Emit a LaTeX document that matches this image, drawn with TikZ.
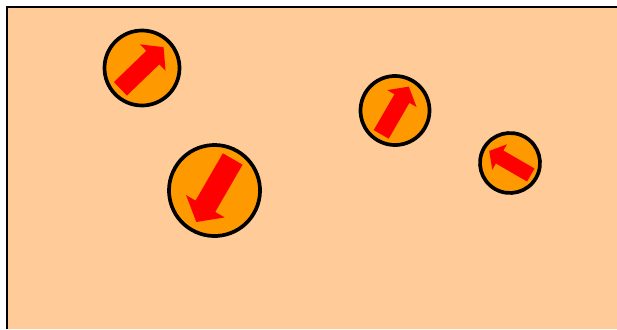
\documentclass[tikz,border=0pt]{standalone}
\usepackage{tikz}
\usepackage{xcolor}
\definecolor{sandbg}{RGB}{255,204,153}
\definecolor{ballfill}{RGB}{255,153,0}
\tikzset{
  ball/.style={fill=ballfill, draw=black, line width=2.1pt},
  spinarrow/.style={fill=red}
}
\newcommand{\spinshape}{(-0.8,-0.25)--(0.4,-0.25)--(0.4,-0.49)--(0.8,0)--(0.4,0.49)--(0.4,0.25)--(-0.8,0.25)--cycle}

\begin{document}
\begin{tikzpicture}[x=0.02cm, y=0.02cm]
\useasboundingbox (0,0) rectangle (617,329);
\fill [sandbg] (7,0) rectangle (617,322);
\draw [line width=1.15pt] (7,0)--(7,322)--(617,322);
\begin{scope}[shift={(142,261)}, rotate=44, scale=37.5]
\path [ball] (0,0) circle (1);
\path [spinarrow] \spinshape;
\end{scope}
\begin{scope}[shift={(214.5,138.5)}, rotate=240, scale=45.5]
\path [ball] (0,0) circle (1);
\path [spinarrow] \spinshape;
\end{scope}
\begin{scope}[shift={(395,218.5)}, rotate=60, scale=34.5]
\path [ball] (0,0) circle (1);
\path [spinarrow] \spinshape;
\end{scope}
\begin{scope}[shift={(510,166)}, rotate=150, scale=30]
\path [ball] (0,0) circle (1);
\path [spinarrow] \spinshape;
\end{scope}
\end{tikzpicture}
\end{document}
